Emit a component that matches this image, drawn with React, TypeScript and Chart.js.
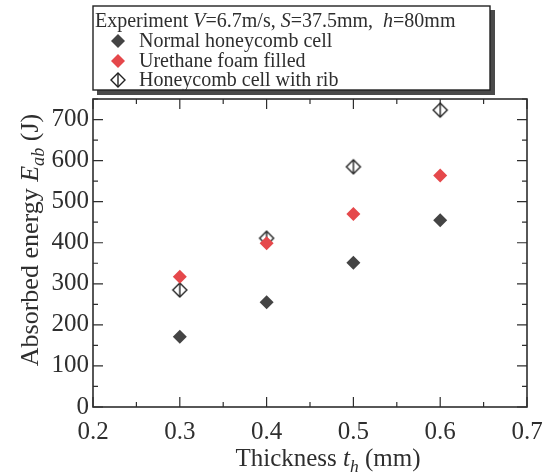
import React, { useEffect, useRef } from "react";
import { Chart, registerables } from "chart.js";

Chart.register(...registerables);

// ---- data ----
const thickness = [0.3, 0.4, 0.5, 0.6];
const normalCell = [171, 255, 351, 455];
const urethaneFilled = [317, 399, 470, 564];
const ribCell = [285, 411, 585, 723];
const xTickValues = [0.2, 0.3, 0.4, 0.5, 0.6, 0.7];
const yTickValues = [0, 100, 200, 300, 400, 500, 600, 700];
const seriesLabels = ["Normal honeycomb cell", "Urethane foam filled", "Honeycomb cell with rib"];

const FONT = "'Liberation Serif', 'Times New Roman', serif";
const INK = "#2e2e2e";
const DARK = "#444444";
const RED = "#e5484b";

type Part = { t: string; it?: boolean; sub?: boolean };

function richWidth(ctx: CanvasRenderingContext2D, parts: Part[], size: number) {
  let w = 0;
  for (const p of parts) {
    const s = p.sub ? size * 0.7 : size;
    ctx.font = `${p.it ? "italic " : ""}${s}px ${FONT}`;
    w += ctx.measureText(p.t).width;
  }
  return w;
}

function drawRich(ctx: CanvasRenderingContext2D, parts: Part[], x: number, y: number, size: number, align: "left" | "center") {
  let cx = align === "center" ? x - richWidth(ctx, parts, size) / 2 : x;
  ctx.textAlign = "left";
  ctx.textBaseline = "alphabetic";
  for (const p of parts) {
    const s = p.sub ? size * 0.7 : size;
    ctx.font = `${p.it ? "italic " : ""}${s}px ${FONT}`;
    ctx.fillText(p.t, cx, p.sub ? y + size * 0.22 : y);
    cx += ctx.measureText(p.t).width;
  }
}

function diamond(ctx: CanvasRenderingContext2D, x: number, y: number, r: number) {
  ctx.beginPath();
  ctx.moveTo(x, y - r);
  ctx.lineTo(x + r, y);
  ctx.lineTo(x, y + r);
  ctx.lineTo(x - r, y);
  ctx.closePath();
}

function drawRibMarker(ctx: CanvasRenderingContext2D, x: number, y: number, r: number) {
  diamond(ctx, x, y, r);
  ctx.fillStyle = "#fff";
  ctx.fill();
  ctx.lineWidth = 1.4;
  ctx.strokeStyle = "#222";
  ctx.stroke();
  ctx.beginPath();
  ctx.moveTo(x, y - r);
  ctx.lineTo(x, y + r);
  ctx.stroke();
}

function makeRibMarker(r: number) {
  const s = Math.ceil(r * 2 + 4);
  const c = document.createElement("canvas");
  c.width = s;
  c.height = s;
  const g = c.getContext("2d")!;
  drawRibMarker(g, s / 2, s / 2, r);
  return c;
}

const decor = {
  id: "decor",
  beforeDatasetsDraw(chart: any) {
    const { ctx, chartArea: a, scales } = chart;
    const x = scales.x;
    const y = scales.y;
    ctx.save();
    ctx.strokeStyle = INK;
    ctx.lineWidth = 1.2;
    ctx.beginPath();
    const major = 10;
    const minor = 5;
    for (let i = 0; i < xTickValues.length; i++) {
      const px = x.getPixelForValue(xTickValues[i]);
      ctx.moveTo(px, a.bottom); ctx.lineTo(px, a.bottom - major);
      ctx.moveTo(px, a.top); ctx.lineTo(px, a.top + major);
      if (i < xTickValues.length - 1) {
        const mx = x.getPixelForValue((xTickValues[i] + xTickValues[i + 1]) / 2);
        ctx.moveTo(mx, a.bottom); ctx.lineTo(mx, a.bottom - minor);
        ctx.moveTo(mx, a.top); ctx.lineTo(mx, a.top + minor);
      }
    }
    const yAll = [...yTickValues, 800];
    for (let i = 0; i < yTickValues.length; i++) {
      const py = y.getPixelForValue(yTickValues[i]);
      ctx.moveTo(a.left, py); ctx.lineTo(a.left + major, py);
      ctx.moveTo(a.right, py); ctx.lineTo(a.right - major, py);
      const mv = (yAll[i] + yAll[i + 1]) / 2;
      if (mv <= y.max) {
        const my = y.getPixelForValue(mv);
        ctx.moveTo(a.left, my); ctx.lineTo(a.left + minor, my);
        ctx.moveTo(a.right, my); ctx.lineTo(a.right - minor, my);
      }
    }
    ctx.stroke();
    ctx.lineWidth = 1.6;
    ctx.strokeRect(a.left, a.top, a.right - a.left, a.bottom - a.top);
    ctx.restore();
  },
  afterDraw(chart: any) {
    const { ctx } = chart;
    ctx.save();
    // legend box
    const bl = 93, bt = 6, br = 490, bb = 90;
    ctx.fillStyle = "#4a4a4a";
    ctx.fillRect(br, bt + 4, 5, bb - bt + 1);
    ctx.fillRect(bl + 4, bb, br - bl + 1, 5);
    ctx.fillStyle = "#fff";
    ctx.fillRect(bl, bt, br - bl, bb - bt);
    ctx.strokeStyle = "#222";
    ctx.lineWidth = 1.4;
    ctx.strokeRect(bl, bt, br - bl, bb - bt);

    ctx.fillStyle = INK;
    drawRich(
      ctx,
      [
        { t: "Experiment " },
        { t: "V", it: true },
        { t: "=6.7m/s, " },
        { t: "S", it: true },
        { t: "=37.5mm,  " },
        { t: "h", it: true },
        { t: "=80mm" },
      ],
      95, 27, 20, "left"
    );
    const rows = [47, 67, 86];
    const mx = 118;
    diamond(ctx, mx, 41, 7);
    ctx.fillStyle = DARK;
    ctx.fill();
    diamond(ctx, mx, 61, 7);
    ctx.fillStyle = RED;
    ctx.fill();
    drawRibMarker(ctx, mx, 80, 7);
    ctx.fillStyle = INK;
    for (let i = 0; i < seriesLabels.length; i++) {
      drawRich(ctx, [{ t: seriesLabels[i] }], 139, rows[i], 20, "left");
    }

    // x title
    ctx.fillStyle = INK;
    drawRich(
      ctx,
      [{ t: "Thickness " }, { t: "t", it: true }, { t: "h", it: true, sub: true }, { t: " (mm)" }],
      328, 466, 25, "center"
    );
    // y title
    ctx.translate(38, 240);
    ctx.rotate(-Math.PI / 2);
    drawRich(
      ctx,
      [{ t: "Absorbed energy " }, { t: "E", it: true }, { t: "ab", it: true, sub: true }, { t: " (J)" }],
      0, 0, 26, "center"
    );
    ctx.restore();
  },
};

export default function App() {
  const ref = useRef<HTMLCanvasElement | null>(null);
  useEffect(() => {
    document.body.style.margin = "0";
    const canvas = ref.current!;
    const rib = makeRibMarker(7);
    const chart = new Chart(canvas, {
      type: "scatter",
      data: {
        datasets: [
          {
            label: seriesLabels[0],
            data: thickness.map((t, i) => ({ x: t, y: normalCell[i] })),
            pointStyle: "rectRot",
            pointRadius: 7,
            pointBorderWidth: 0,
            backgroundColor: DARK,
            borderColor: DARK,
          },
          {
            label: seriesLabels[1],
            data: thickness.map((t, i) => ({ x: t, y: urethaneFilled[i] })),
            pointStyle: "rectRot",
            pointRadius: 7,
            pointBorderWidth: 0,
            backgroundColor: RED,
            borderColor: RED,
          },
          {
            label: seriesLabels[2],
            data: thickness.map((t, i) => ({ x: t, y: ribCell[i] })),
            pointStyle: rib as any,
            pointRadius: 7,
            backgroundColor: "#fff",
            borderColor: "#222",
          },
        ],
      },
      options: {
        animation: false,
        responsive: false,
        devicePixelRatio: 1,
        layout: { padding: { top: 99, right: 29, left: 0, bottom: 0 } },
        plugins: { legend: { display: false }, tooltip: { enabled: false } },
        scales: {
          x: {
            type: "linear",
            min: 0.2,
            max: 0.7,
            grid: { display: false, drawTicks: false },
            border: { display: false },
            afterBuildTicks: (s: any) => {
              s.ticks = xTickValues.map((v) => ({ value: v }));
            },
            afterFit: (s: any) => {
              s.height = 68;
            },
            ticks: {
              autoSkip: false,
              maxRotation: 0,
              padding: 10,
              color: INK,
              font: { family: FONT, size: 25 },
              callback: (v: any) => Number(v).toFixed(1),
            },
          },
          y: {
            type: "linear",
            min: 0,
            max: 750,
            grid: { display: false, drawTicks: false },
            border: { display: false },
            afterBuildTicks: (s: any) => {
              s.ticks = yTickValues.map((v) => ({ value: v }));
            },
            afterFit: (s: any) => {
              s.width = 93;
            },
            ticks: {
              autoSkip: false,
              padding: 4,
              color: INK,
              font: { family: FONT, size: 25 },
              callback: (v: any) => String(v),
            },
          },
        },
      },
      plugins: [decor],
    });
    return () => chart.destroy();
  }, []);
  return (
    <div style={{ width: 556, height: 475 }}>
      <canvas ref={ref} width={556} height={475} style={{ display: "block" }} />
    </div>
  );
}
